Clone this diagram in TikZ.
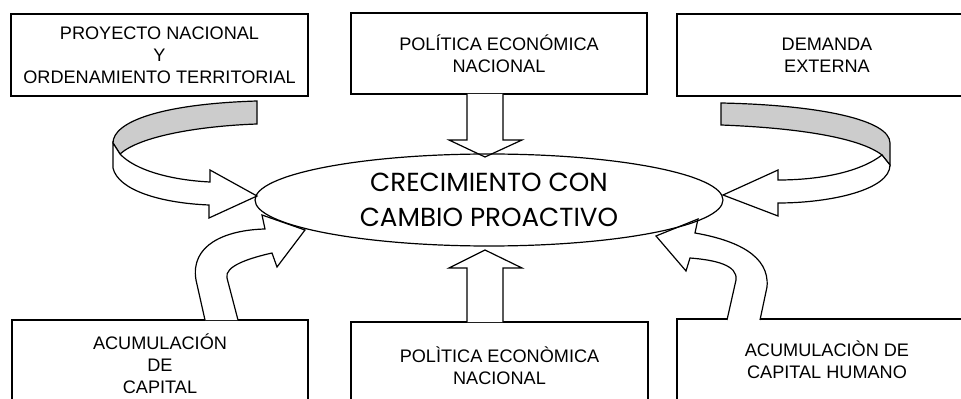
\documentclass[tikz,border=0pt]{standalone}
\usepackage{fontspec}
\setmainfont{Liberation Sans}
\newfontfamily\titlefont{Poppins}
\usetikzlibrary{shapes.geometric,positioning,calc}
\definecolor{ribbon}{HTML}{CCCCCC}
\tikzset{
    % Boxes with the driving factors
    factor/.style={
        rectangle,
        draw=black,
        line width=0.9pt,
        inner sep=0pt,
        align=center,
        font=\fontsize{13.6}{16.5}\selectfont
    },
    % Central goal
    goal/.style={
        ellipse,
        draw=black,
        line width=0.9pt,
        inner sep=0pt,
        minimum width=351pt,
        minimum height=69pt,
        align=center,
        font=\titlefont\fontsize{19.6}{26}\selectfont
    },
    % Block arrows
    blockarrow/.style={
        draw=black,
        fill=white,
        line width=0.9pt,
        line join=miter
    },
    % Back side of the twisted ribbons
    backside/.style={
        draw=black,
        fill=ribbon,
        line width=0.9pt
    }
}

\begin{document}
\begin{tikzpicture}[x=0.75pt, y=-0.75pt]
    \clip (0,0) rectangle (961,399);

    % Factor boxes
    \node[factor, minimum width=222.75pt, minimum height=61.5pt] (proyecto) at (159.5,55) {PROYECTO NACIONAL\\Y\\ORDENAMIENTO TERRITORIAL};
    \node[factor, minimum width=222pt, minimum height=60.75pt] (politica) at (499,53.5) {POLÍTICA ECONÓMICA\\NACIONAL};
    \node[factor, minimum width=225pt, minimum height=61.5pt] (demanda) at (827,55) {DEMANDA\\EXTERNA};
    \node[factor, minimum width=222pt, minimum height=66pt] (capital) at (160,364) {ACUMULACIÓN\\DE\\CAPITAL};
    \node[factor, minimum width=222.75pt, minimum height=66pt] (politicab) at (499.5,366) {POLÌTICA ECONÒMICA\\NACIONAL};
    \node[factor, minimum width=225pt, minimum height=61.5pt] (humano) at (827,360) {ACUMULACIÒN DE\\CAPITAL HUMANO};

    % Twisted arrows from the top corners
    \draw[backside] (257,101) .. controls (160,104) and (113,122) .. (113,143)
        -- (120,154) .. controls (140,136) and (200,126) .. (257,124) -- cycle;
    \draw[blockarrow] (113,143) -- (113,168) .. controls (118,190) and (160,203) .. (209,205)
        -- (209,218) -- (257,196) -- (210,170) -- (210,182)
        .. controls (170,180) and (135,170) .. (120,154) -- cycle;

    \draw[backside] (721,103) .. controls (820,105) and (890,120) .. (890,143)
        -- (890,165) -- (882,155) .. controls (860,138) and (800,128) .. (721,125) -- cycle;
    \draw[blockarrow] (882,155) .. controls (860,172) and (820,180) .. (778,180)
        -- (778,170) -- (723,195) -- (778,216) -- (778,203)
        .. controls (830,203) and (890,190) .. (890,165) -- cycle;

    % Straight arrows in the middle
    \draw[blockarrow] (467,94) -- (467,140) -- (449,140) -- (485,157)
        -- (522,140) -- (503,140) -- (503,94);
    \draw[blockarrow] (467,322) -- (467,268) -- (449,268) -- (485,250)
        -- (522,268) -- (503,268) -- (503,322);

    % Curved arrows from the bottom corners
    \draw[blockarrow] (205,320) -- (196,280) .. controls (190,245) and (225,230) .. (265,229)
        -- (262,215) -- (305,230) -- (277,267) -- (272,253)
        .. controls (250,258) and (224,266) .. (227,278) -- (238,320);
    \draw[blockarrow] (727,320) -- (736,280) .. controls (738,265) and (715,260) .. (690,258)
        -- (686,271) -- (656,236) -- (698,219) -- (695,233)
        .. controls (735,240) and (770,255) .. (767,287) -- (760,320);

    % Goal
    \node[goal] (crecimiento) at (489,200) {CRECIMIENTO CON\\CAMBIO PROACTIVO};
\end{tikzpicture}
\end{document}
